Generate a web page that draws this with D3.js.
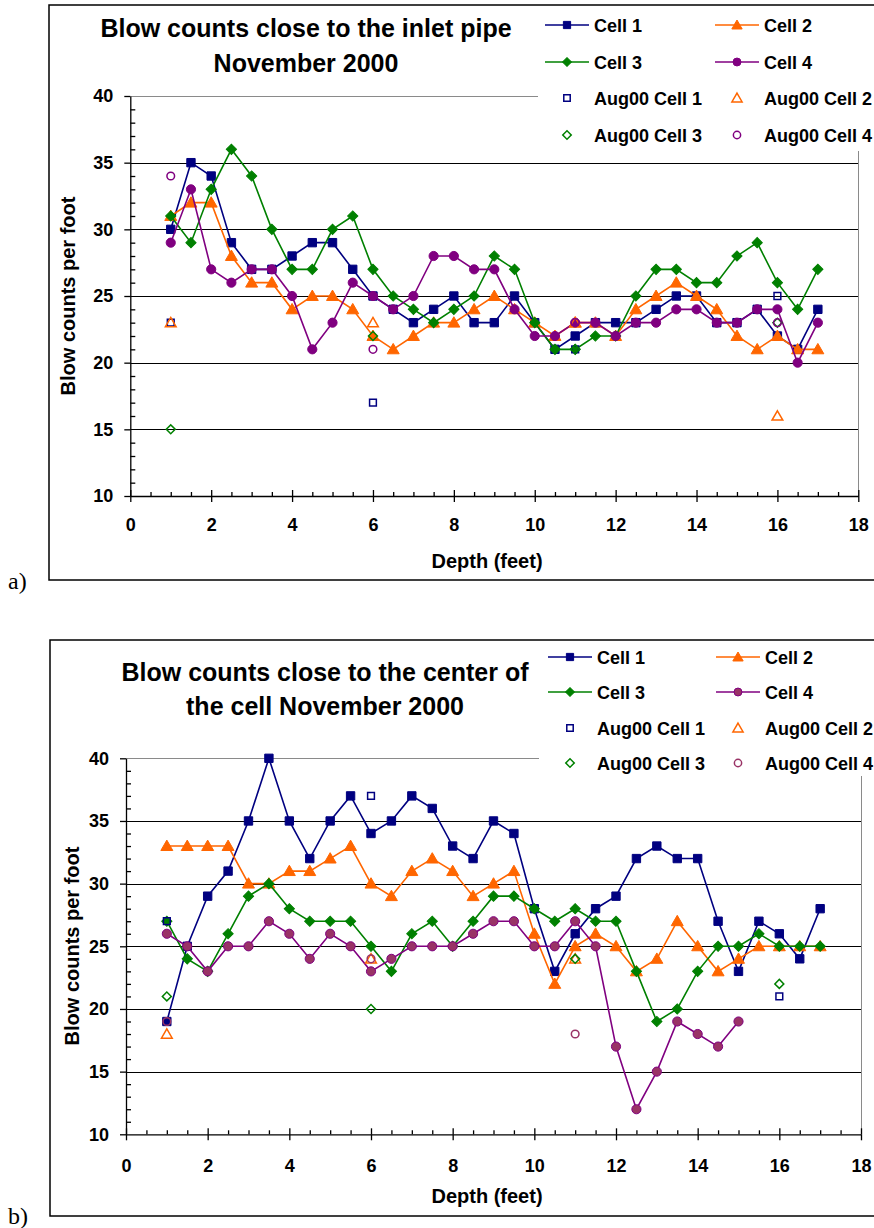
<!DOCTYPE html>
<html>
<head>
<meta charset="utf-8">
<script src="https://cdn.jsdelivr.net/npm/d3@7"></script>
<style>
body { margin: 0; background: #fff; }
svg { display: block; font-family: "Liberation Sans", Arial, sans-serif; }
</style>
</head>
<body>
<script>
// depths (feet) of the november 2000 readings and of the august 2000 readings
var depths = [1, 1.5, 2, 2.5, 3, 3.5, 4, 4.5, 5, 5.5, 6, 6.5, 7, 7.5, 8, 8.5, 9, 9.5,
              10, 10.5, 11, 11.5, 12, 12.5, 13, 13.5, 14, 14.5, 15, 15.5, 16, 16.5, 17];
var augDepths = [1, 6, 11, 16];

var cellNames = ["Cell 1", "Cell 2", "Cell 3", "Cell 4"];
var augNames = ["Aug00 Cell 1", "Aug00 Cell 2", "Aug00 Cell 3", "Aug00 Cell 4"];

// a) close to the inlet pipe
var inletCell1 = [30, 35, 34, 29, 27, 27, 28, 29, 29, 27, 25, 24, 23, 24, 25, 23, 23, 25,
                  23, 21, 22, 23, 23, 23, 24, 25, 25, 23, 23, 24, 22, 21, 24];
var inletCell2 = [31, 32, 32, 28, 26, 26, 24, 25, 25, 24, 22, 21, 22, 23, 23, 24, 25, 24,
                  23, 22, 23, 23, 22, 24, 25, 26, 25, 24, 22, 21, 22, 21, 21];
var inletCell3 = [31, 29, 33, 36, 34, 30, 27, 27, 30, 31, 27, 25, 24, 23, 24, 25, 28, 27,
                  23, 21, 21, 22, 22, 25, 27, 27, 26, 26, 28, 29, 26, 24, 27];
var inletCell4 = [29, 33, 27, 26, 27, 27, 25, 21, 23, 26, 25, 24, 25, 28, 28, 27, 27, 24,
                  22, 22, 23, 23, 22, 23, 23, 24, 24, 23, 23, 24, 24, 20, 23];
var inletAug1 = [23, 17, 21, 25];
var inletAug2 = [23, 23, 23, 16];
var inletAug3 = [15, 22, 21, 23];
var inletAug4 = [34, 21, 23, 23];

// b) close to the center of the cell
var centerCell1 = [19, 25, 29, 31, 35, 40, 35, 32, 35, 37, 34, 35, 37, 36, 33, 32, 35, 34,
                   28, 23, 26, 28, 29, 32, 33, 32, 32, 27, 23, 27, 26, 24, 28];
var centerCell2 = [33, 33, 33, 33, 30, 30, 31, 31, 32, 33, 30, 29, 31, 32, 31, 29, 30, 31,
                   26, 22, 25, 26, 25, 23, 24, 27, 25, 23, 24, 25, 25, 25, 25];
var centerCell3 = [27, 24, 23, 26, 29, 30, 28, 27, 27, 27, 25, 23, 26, 27, 25, 27, 29, 29,
                   28, 27, 28, 27, 27, 23, 19, 20, 23, 25, 25, 26, 25, 25, 25];
var centerCell4 = [26, 25, 23, 25, 25, 27, 26, 24, 26, 25, 23, 24, 25, 25, 25, 26, 27, 27,
                   25, 25, 27, 25, 17, 12, 15, 19, 18, 17, 19];
var centerAug1 = [27, 37, null, 21];
var centerAug2 = [18, 24, 24, null];
var centerAug3 = [21, 20, 24, 22];
var centerAug4 = [19, 24, 18, null];

var yTicks = [10, 15, 20, 25, 30, 35, 40];
var xTicks = [0, 2, 4, 6, 8, 10, 12, 14, 16, 18];

// look of the four cells
var colors = ["#000080", "#ff6600", "#008000", "#800080"];
var shapes = ["square", "triangle", "diamond", "circle"];

var svg = d3.select("body").append("svg")
    .attr("width", 874)
    .attr("height", 1228);

function symbolPath(shape, size) {
  var type = {square: d3.symbolSquare, triangle: d3.symbolTriangle,
              diamond: d3.symbolSquare, circle: d3.symbolCircle}[shape];
  return d3.symbol().type(type).size(size)();
}

function drawMarker(g, shape, cx, cy, filled, color, fill, scale) {
  var sizes = filled ? {square: 70, triangle: 62, diamond: 52, circle: 66}
                     : {square: 46, triangle: 50, diamond: 40, circle: 46};
  var s = sizes[shape] * (scale || 1);
  var rot = shape === "diamond" ? " rotate(45)" : "";
  var dy = shape === "triangle" ? 1 : 0;
  g.append("path")
    .attr("d", symbolPath(shape, s))
    .attr("transform", "translate(" + cx + "," + (cy + dy) + ")" + rot)
    .attr("fill", filled ? (fill || color) : "#fff")
    .attr("fill-opacity", filled ? 1 : 0)
    .attr("stroke", color)
    .attr("stroke-width", filled ? 1 : 1.5);
}

function drawChart(c) {
  var g = svg.append("g");

  // outer frame of the chart, running off the right edge
  g.append("rect")
    .attr("x", c.frame[0]).attr("y", c.frame[1])
    .attr("width", 900).attr("height", c.frame[2])
    .attr("fill", "none").attr("stroke", "#000").attr("stroke-width", 1.5);

  g.append("text")
    .attr("x", 8).attr("y", c.frame[1] + c.frame[2] + c.tagDy)
    .style("font-family", "'Liberation Serif', 'Times New Roman', serif")
    .style("font-size", "24px")
    .text(c.tag);

  var x = d3.scaleLinear().domain([0, 18]).range([c.left, c.right]);
  var y = d3.scaleLinear().domain([10, 40]).range([c.bottom, c.top]);

  // gridlines
  g.selectAll(".grid").data(yTicks.slice(1)).enter().append("line")
    .attr("x1", x(0)).attr("x2", x(18))
    .attr("y1", function(d) { return Math.round(y(d)) + 0.5; })
    .attr("y2", function(d) { return Math.round(y(d)) + 0.5; })
    .attr("stroke", function(d) { return d === 40 ? "#8a8a8a" : "#000"; })
    .attr("stroke-width", 1);
  g.append("line")
    .attr("x1", Math.round(x(18)) + 0.5).attr("x2", Math.round(x(18)) + 0.5)
    .attr("y1", y(10)).attr("y2", y(40))
    .attr("stroke", "#8a8a8a");

  // y axis: major ticks outside with labels, minor ticks inside
  var yAxis = g.append("g")
    .attr("transform", "translate(" + x(0) + ",0)")
    .call(d3.axisLeft(y).tickValues(yTicks).tickSize(6).tickSizeOuter(0).tickPadding(11));
  g.append("g")
    .attr("transform", "translate(" + x(0) + ",0)")
    .call(d3.axisLeft(y).tickValues(d3.range(10, 41).filter(function(d) { return d % 5; }))
      .tickSize(-5).tickSizeOuter(0).tickFormat(""))
    .select(".domain").remove();

  // x axis: major ticks cross the line, minor ticks inside
  var xAxis = g.append("g")
    .attr("transform", "translate(0," + y(10) + ")")
    .call(d3.axisBottom(x).tickValues(xTicks).tickSize(6).tickSizeOuter(0).tickPadding(c.xPad));
  g.append("g")
    .attr("transform", "translate(0," + y(10) + ")")
    .call(d3.axisBottom(x).tickValues(xTicks).tickSize(-6).tickSizeOuter(0).tickFormat(""))
    .select(".domain").remove();
  g.append("g")
    .attr("transform", "translate(0," + y(10) + ")")
    .call(d3.axisBottom(x).tickValues(d3.range(0.5, 18, 0.5).filter(function(d) { return d % 2; }))
      .tickSize(-4).tickSizeOuter(0).tickFormat(""))
    .select(".domain").remove();

  g.selectAll(".tick line, .domain").attr("stroke", "#000").attr("stroke-width", 1.3);
  [yAxis, xAxis].forEach(function(a) {
    a.selectAll("text")
      .style("font-family", "'Liberation Sans', Arial, sans-serif")
      .style("font-size", "18px").style("font-weight", "bold").attr("fill", "#000");
  });

  // series: lines with filled markers
  var line = d3.line()
    .x(function(d) { return x(d[0]); })
    .y(function(d) { return y(d[1]); });

  c.cells.forEach(function(vals, k) {
    var pts = vals.map(function(v, i) { return [depths[i], v]; });
    g.append("path").datum(pts)
      .attr("d", line)
      .attr("fill", "none").attr("stroke", colors[k]).attr("stroke-width", 1.6);
    pts.forEach(function(p) {
      drawMarker(g, shapes[k], x(p[0]), y(p[1]), true, colors[k], c.fills[k]);
    });
  });

  // august 2000 readings, open markers
  c.augs.forEach(function(vals, k) {
    vals.forEach(function(v, i) {
      if (v == null) return;
      drawMarker(g, shapes[k], x(augDepths[i]), y(v), false, c.augColors[k]);
    });
  });

  // axis titles
  g.append("text")
    .attr("transform", "translate(" + c.yTitle[0] + "," + c.yTitle[1] + ") rotate(-90)")
    .style("text-anchor", "middle").style("font-size", "20px").style("font-weight", "bold")
    .text("Blow counts per foot");
  g.append("text")
    .attr("x", c.xTitle[0]).attr("y", c.xTitle[1])
    .style("text-anchor", "middle").style("font-size", "20px").style("font-weight", "bold")
    .text("Depth (feet)");

  // title
  c.title.forEach(function(t, i) {
    g.append("text")
      .attr("x", c.titleX).attr("y", c.titleY[i])
      .style("text-anchor", "middle").style("font-size", "25px").style("font-weight", "bold")
      .text(t);
  });

  // legend
  var lg = g.append("g");
  lg.append("rect")
    .attr("x", c.legend.x).attr("y", c.legend.y)
    .attr("width", 874 - c.legend.x).attr("height", c.legend.h)
    .attr("fill", "#fff");
  var items = cellNames.map(function(n, k) { return {name: n, k: k, filled: true}; })
    .concat(augNames.map(function(n, k) { return {name: n, k: k, filled: false}; }));
  items.forEach(function(it, i) {
    var col = i % 2, row = Math.floor(i / 2);
    var mx = c.legend.mx[col], ly = c.legend.rows[row];
    if (it.filled) {
      lg.append("line")
        .attr("x1", mx - 22).attr("x2", mx + 22).attr("y1", ly).attr("y2", ly)
        .attr("stroke", colors[it.k]).attr("stroke-width", 1.6);
      drawMarker(lg, shapes[it.k], mx, ly, true, colors[it.k], c.fills[it.k], 0.75);
    } else {
      drawMarker(lg, shapes[it.k], mx, ly, false, c.augColors[it.k], null, 0.9);
    }
    lg.append("text")
      .attr("x", mx + c.legend.tx).attr("y", ly + 6.5)
      .style("font-size", "18px").style("font-weight", "bold")
      .text(it.name);
  });
}

drawChart({
  frame: [49, 5, 575], tag: "a)", tagDy: 9,
  left: 130.3, right: 858.3, top: 96, bottom: 496, xPad: 16,
  cells: [inletCell1, inletCell2, inletCell3, inletCell4],
  augs: [inletAug1, inletAug2, inletAug3, inletAug4],
  fills: colors, augColors: colors,
  title: ["Blow counts close to the inlet pipe", "November 2000"],
  titleX: 306, titleY: [37, 72],
  yTitle: [75, 296], xTitle: [487, 568],
  legend: {x: 538, y: 9, h: 142, mx: [567, 737], tx: 27, rows: [25, 62, 98, 135]}
});

drawChart({
  frame: [50, 640, 576], tag: "b)", tagDy: 8,
  left: 126, right: 861, top: 758.3, bottom: 1134.3, xPad: 19,
  cells: [centerCell1, centerCell2, centerCell3, centerCell4],
  augs: [centerAug1, centerAug2, centerAug3, centerAug4],
  fills: ["#000080", "#ff6600", "#008000", "#993366"],
  augColors: ["#000080", "#ff6600", "#008000", "#993366"],
  title: ["Blow counts close to the center of", "the cell November 2000"],
  titleX: 325, titleY: [681, 715],
  yTitle: [79, 946], xTitle: [487, 1203],
  legend: {x: 539, y: 643, h: 133, mx: [570, 738], tx: 27, rows: [657, 692, 728, 763]}
});
</script>
</body>
</html>
